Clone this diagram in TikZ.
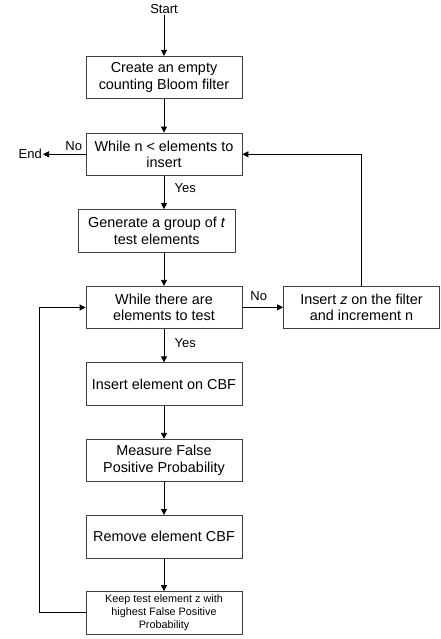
\documentclass[tikz,border=0pt]{standalone}
\usepackage{fontspec}
\setmainfont{Liberation Sans}
\usetikzlibrary{arrows.meta}

\begin{document}
\begin{tikzpicture}[x=1pt,y=-1pt,
    stepbox/.style={draw=black!75,line width=0.8pt,minimum width=156pt,minimum height=42.5pt,
        align=center,inner sep=2pt,font=\fontsize{14.4}{16.7}\selectfont},
    lbl/.style={inner sep=1pt,font=\fontsize{13}{15}\selectfont},
    arr/.style={-{Triangle[length=6pt,width=6pt]},line width=0.8pt}]
                \useasboundingbox (0,0) rectangle (440,639);
                \node[lbl] (start) at (164,9) {Start};
                \node[stepbox] (create) at (164,77.5) {Create an empty\\counting Bloom filter};
                \node[stepbox] (whilen) at (164,154.3) {While n < elements to\\insert};
                \node[lbl,anchor=east] (end) at (43,154.3) {End};
                \node[stepbox,minimum width=157pt] (group) at (156.8,230.7) {Generate a group of \textit{t}\\test elements};
                \node[stepbox] (whiletest) at (164,307.5) {While there are\\elements to test};
                \node[stepbox] (insertz) at (361.5,307.3) {Insert \textit{z} on the filter\\and increment n};
                \node[stepbox] (insertcbf) at (164,384) {Insert element on CBF};
                \node[stepbox] (measure) at (164,460.5) {Measure False\\Positive Probability};
                \node[stepbox] (remove) at (164,536.7) {Remove element CBF};
                \node[stepbox,font=\fontsize{10.8}{12.7}\selectfont] (keep) at (164,612.8) {Keep test element z with\\highest False Positive\\Probability};
                % labels
                \node[lbl] (no1) at (73.7,146) {No};
                \node[lbl] (yes1) at (185.3,187.7) {Yes};
                \node[lbl] (no2) at (258.8,296) {No};
                \node[lbl] (yes2) at (185.3,342.7) {Yes};
                % connectors
                \draw[arr] (start) -- (create);
                \draw[arr] (create) -- (whilen);
                \draw[arr] (whilen) -- (end);
                \draw[arr] (whilen.south) -- (whilen.south |- group.north);
                \draw[arr] (group.south -| whiletest.north) -- (whiletest.north);
                \draw[arr] (whiletest.east |- insertz.west) -- (insertz.west);
                \draw[arr] (insertz.north) |- (whilen.east);
                \draw[arr] (whiletest) -- (insertcbf);
                \draw[arr] (insertcbf) -- (measure);
                \draw[arr] (measure) -- (remove);
                \draw[arr] (remove) -- (keep);
                \draw[arr] (keep.west) -- ++(-46.5,0) |- (whiletest.west);
            \end{tikzpicture}
\end{document}
